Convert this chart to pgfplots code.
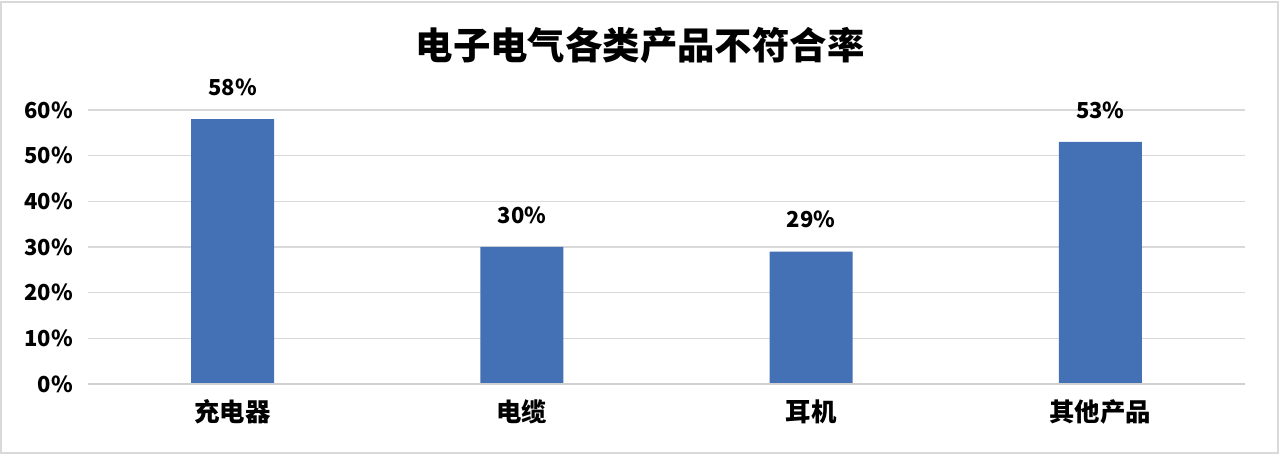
\documentclass[border=0pt]{standalone}
\usepackage{pgfplots}
\pgfplotsset{compat=1.18}
\usepackage{fontspec}
\setmainfont{Noto Sans CJK SC}
\definecolor{barblue}{HTML}{4470B6}
\definecolor{gridgray}{HTML}{D9D9D9}
\begin{document}
\begin{tikzpicture}
\draw[gridgray, line width=0.6pt] (0.5pt,0.5pt) rectangle (639pt,226pt);
\node[font=\bfseries\fontsize{18.7}{20}\selectfont] at (320pt,204.5pt) {电子电气各类产品不符合率};
\begin{axis}[
  at={(44pt,35pt)}, anchor=south west,
  scale only axis, width=578.5pt, height=137pt,
  ymin=0, ymax=60, xmin=-0.5, xmax=3.5,
  axis line style={draw=none},
  ytick={0,10,20,30,40,50,60},
  yticklabels={0\%,10\%,20\%,30\%,40\%,50\%,60\%},
  xtick={0,1,2,3},
  xticklabels={充电器,电缆,耳机,其他产品},
  major tick length=0pt,
  ymajorgrids, grid style={gridgray, line width=0.6pt},
  tick label style={font=\bfseries\fontsize{11}{13}\selectfont},
  yticklabel style={anchor=east, xshift=-4pt},
  xticklabel style={anchor=center, yshift=-14pt, font=\bfseries\fontsize{12.7}{14}\selectfont},
  clip=false,
  /pgf/number format/assume math mode=true,
]
\addplot[ybar, bar width=41.5pt, fill=barblue, draw=none,
  nodes near coords={\pgfmathprintnumber{\pgfplotspointmeta}\%},
  nodes near coords style={font=\bfseries\fontsize{11}{13}\selectfont, anchor=center, yshift=16pt, text=black}]
  coordinates {(0,58) (1,30) (2,29) (3,53)};
\draw[gridgray!90!gray, line width=0.8pt] (axis cs:-0.5,0) -- (axis cs:3.5,0);
\end{axis}
\path (0pt,0pt) rectangle (640pt,227pt);
\end{tikzpicture}
\end{document}
